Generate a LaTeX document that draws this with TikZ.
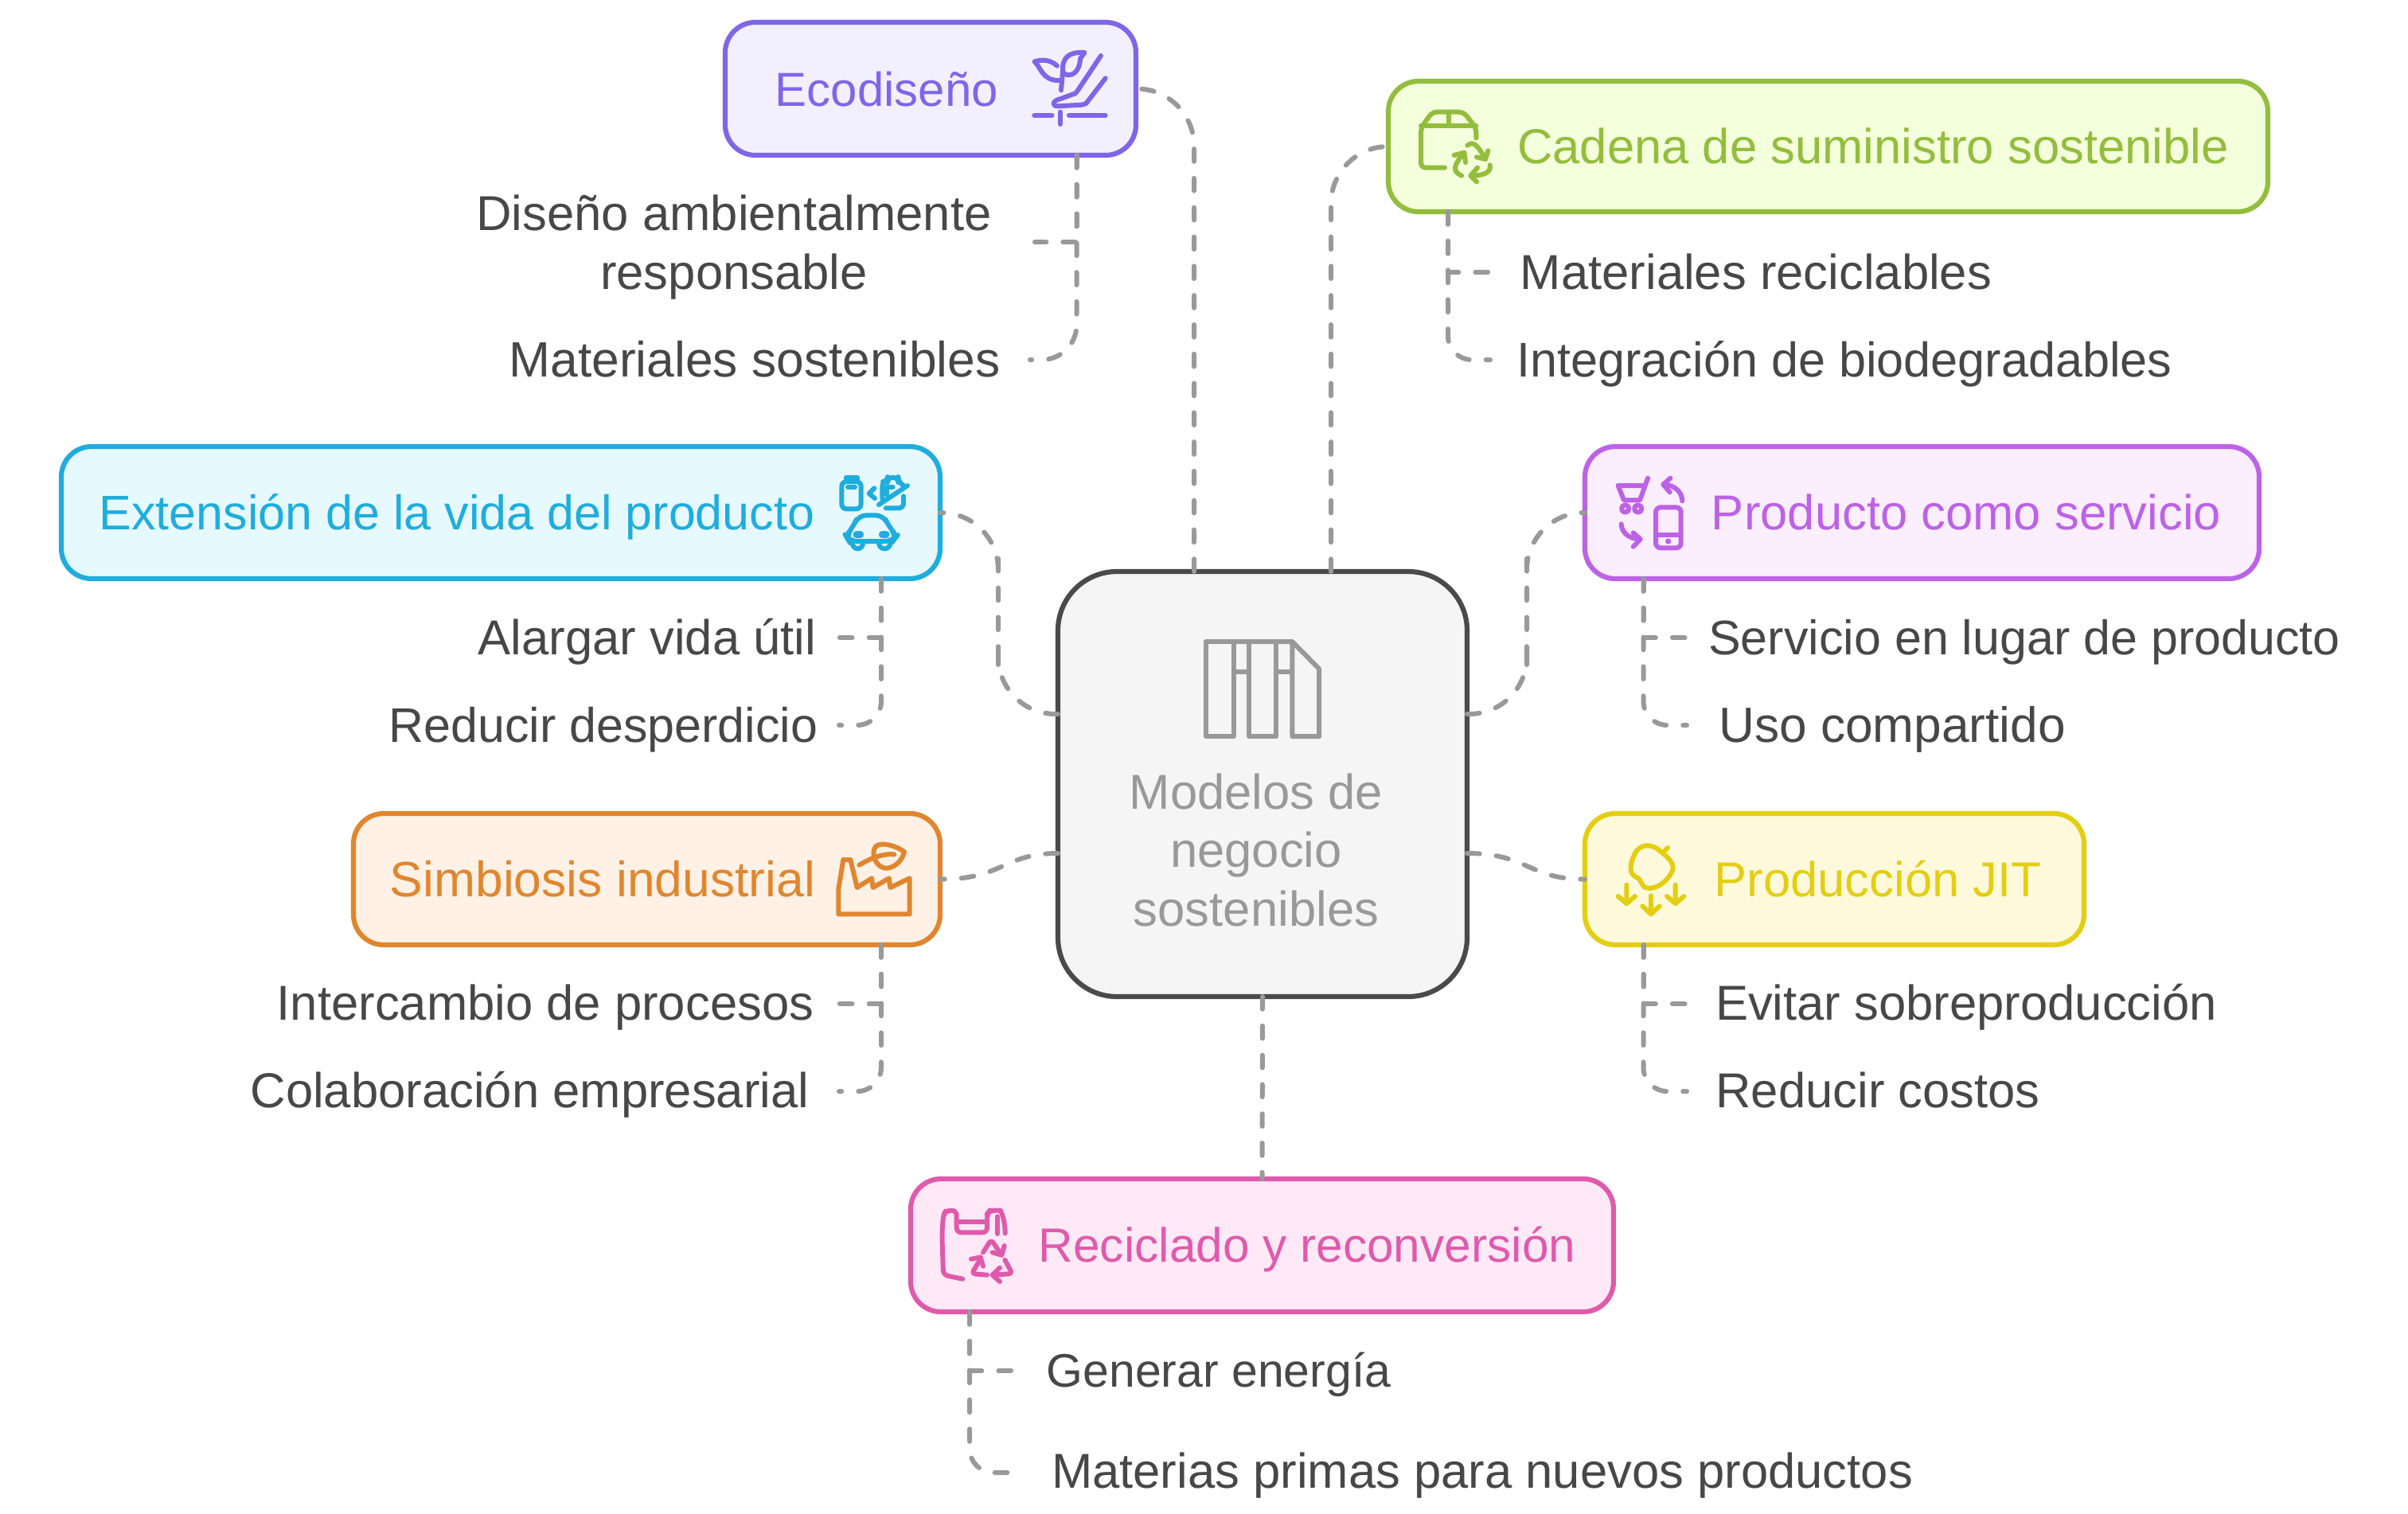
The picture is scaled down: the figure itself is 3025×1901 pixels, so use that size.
\documentclass[tikz,border=0pt]{standalone}
\usepackage{fontspec}
\setmainfont{Liberation Sans}
\definecolor{ecoS}{HTML}{7F66E8}\definecolor{ecoF}{HTML}{F2F0FF}
\definecolor{cadS}{HTML}{93BD3C}\definecolor{cadF}{HTML}{F4FFDC}
\definecolor{extS}{HTML}{1EADDD}\definecolor{extF}{HTML}{E6F9FF}
\definecolor{proS}{HTML}{BD62E6}\definecolor{proF}{HTML}{FBEEFF}
\definecolor{simS}{HTML}{E0862F}\definecolor{simF}{HTML}{FFF1E5}
\definecolor{jitS}{HTML}{E3CE12}\definecolor{jitF}{HTML}{FFF9DB}
\definecolor{recS}{HTML}{E05AAC}\definecolor{recF}{HTML}{FFE9F7}
\definecolor{hubS}{HTML}{4A4A4A}\definecolor{hubF}{HTML}{F5F5F5}
\definecolor{hubT}{HTML}{999999}\definecolor{labT}{HTML}{474747}
\newcommand{\fsz}[1]{\fontsize{#1}{36}\selectfont}
\tikzset{
  boxnode/.style={draw=#1S,fill=#1F,text=#1S,line width=3.1pt,rounded corners=19pt,inner sep=0pt,outer sep=0pt},
  hubnode/.style={draw=hubS,fill=hubF,line width=3.1pt,rounded corners=37pt,inner sep=0pt,outer sep=0pt},
  title/.style={font=\fsz{30.8},text=#1,anchor=base,inner sep=0pt},
  sublabel/.style={font=\fsz{30.8},text=labT,anchor=base,inner sep=0pt},
  dashlink/.style={draw=hubT,line width=3pt,line cap=round,dash pattern=on 7.85pt off 10.55pt},
  mainlink/.style={dashlink,rounded corners=36pt},
  sublink/.style={dashlink,rounded corners=15pt},
  icon/.style={draw=#1,line width=3pt,line cap=round,line join=round},
  zoomA/.style={x=0.1667pt,y=-0.1667pt}
}
\begin{document}
\begin{tikzpicture}[x=0.5pt,y=-0.5pt]
\useasboundingbox[fill=white] (0,0) rectangle (3025,1901);
% boxes
\node[hubnode,minimum width=257pt,minimum height=267pt] (hub) at (1586,985) {};
\node[boxnode=eco,minimum width=258pt,minimum height=83.5pt] (eco) at (1169,111.5) {};
\node[boxnode=cad,minimum width=552.5pt,minimum height=82pt] (cad) at (2296.5,184) {};
\node[boxnode=ext,minimum width=552pt,minimum height=83pt] (ext) at (629,644) {};
\node[boxnode=pro,minimum width=423.5pt,minimum height=83pt] (pro) at (2414.5,644) {};
\node[boxnode=sim,minimum width=368.5pt,minimum height=82.5pt] (sim) at (812.5,1104.5) {};
\node[boxnode=jit,minimum width=313.5pt,minimum height=82.5pt] (jit) at (2304.5,1104.5) {};
\node[boxnode=rec,minimum width=441.5pt,minimum height=83.5pt] (rec) at (1585.5,1564.5) {};
% titles
\node[title=ecoS,font=\fsz{30}] (tEco) at (1114,133) {Ecodiseño};
\node[title=cadS] (tCad) at (2353,205) {Cadena de suministro sostenible};
\node[title=extS,font=\fsz{30.5}] (tExt) at (574,665) {Extensión de la vida del producto};
\node[title=proS] (tPro) at (2470,665) {Producto como servicio};
\node[title=simS,font=\fsz{31.2}] (tSim) at (757,1126) {Simbiosis industrial};
\node[title=jitS] (tJit) at (2359,1126) {Producción JIT};
\node[title=recS,font=\fsz{30.2}] (tRec) at (1642,1585) {Reciclado y reconversión};
\node[title=hubT] (h1) at (1578,1016) {Modelos de};
\node[title=hubT] (h2) at (1578,1089) {negocio};
\node[title=hubT] (h3) at (1578,1163) {sostenibles};
% sub labels
\node[sublabel] (l1a) at (922,289) {Diseño ambientalmente};
\node[sublabel] (l1b) at (922,363) {responsable};
\node[sublabel,font=\fsz{31.2}] (l2) at (948,473) {Materiales sostenibles};
\node[sublabel] (l3) at (2206,363) {Materiales reciclables};
\node[sublabel,font=\fsz{30.6}] (l4) at (2317,473) {Integración de biodegradables};
\node[sublabel] (l5) at (813,822) {Alargar vida útil};
\node[sublabel,font=\fsz{30.5}] (l6) at (758,932) {Reducir desperdicio};
\node[sublabel,font=\fsz{30.5}] (l7) at (2543,822) {Servicio en lugar de producto};
\node[sublabel,font=\fsz{31.1}] (l8) at (2377,932) {Uso compartido};
\node[sublabel] (l9) at (685,1281) {Intercambio de procesos};
\node[sublabel] (l10) at (665.5,1391) {Colaboración empresarial};
\node[sublabel] (l11) at (2470,1281) {Evitar sobreproducción};
\node[sublabel] (l12) at (2359,1391) {Reducir costos};
\node[sublabel,font=\fsz{29.5}] (l13) at (1531,1742) {Generar energía};
\node[sublabel] (l14) at (1862,1869) {Materias primas para nuevos productos};
% free ends and bends
\coordinate (hA) at (1500,718);
\coordinate (hB) at (1672,718);
\coordinate (hL) at (1329,897);
\coordinate (hR) at (1843,897);
\coordinate (hLb) at (1329,1072);
\coordinate (hRb) at (1843,1072);
\coordinate (mL) at (1254,770);
\coordinate (mR) at (1918,770);
\coordinate (e1) at (1300,304);
\coordinate (e2) at (1294,452);
\coordinate (e3) at (1872,342);
\coordinate (e4) at (1872,452);
\coordinate (e5) at (1054,801);
\coordinate (e6) at (1054,911);
\coordinate (e7) at (2119,801);
\coordinate (e8) at (2119,911);
\coordinate (e9) at (1054,1261);
\coordinate (e10) at (1054,1371);
\coordinate (e11) at (2119,1261);
\coordinate (e12) at (2119,1371);
\coordinate (e13) at (1271,1722);
\coordinate (e14) at (1268,1850);
\coordinate (tE) at (1352.5,0);
\coordinate (tC) at (1819,0);
\coordinate (tX) at (1107,0);
\coordinate (tP) at (2064.5,0);
\coordinate (tR) at (1218,0);
% main connectors
\draw[mainlink] (hA) |- (eco.east);
\draw[mainlink] (hB) |- (cad.west);
\draw[mainlink] (hL) -| (mL) |- (ext.east);
\draw[mainlink] (hR) -| (mR) |- (pro.west);
\draw[dashlink] (hLb) .. controls (1260,1072) and (1260,1105) .. (sim.east);
\draw[dashlink] (hRb) .. controls (1920,1072) and (1920,1105) .. (jit.west);
\draw[dashlink] (hub.south) -- (rec.north);
% sub connectors
\draw[dashlink] (eco.south -| tE) |- (e1);
\draw[sublink,rounded corners=22pt] (eco.south -| tE) |- (e2);
\draw[dashlink] (cad.south -| tC) |- (e3);
\draw[sublink] (cad.south -| tC) |- (e4);
\draw[dashlink] (ext.south -| tX) |- (e5);
\draw[sublink] (ext.south -| tX) |- (e6);
\draw[dashlink] (pro.south -| tP) |- (e7);
\draw[sublink] (pro.south -| tP) |- (e8);
\draw[dashlink] (sim.south -| tX) |- (e9);
\draw[sublink] (sim.south -| tX) |- (e10);
\draw[dashlink] (jit.south -| tP) |- (e11);
\draw[sublink] (jit.south -| tP) |- (e12);
\draw[dashlink] (rec.south -| tR) |- (e13);
\draw[sublink] (rec.south -| tR) |- (e14);
% icon: hub
\begin{scope}[shift={(1320,700)},x=0.1724pt,y=-0.1786pt,icon=hubT]
\draw (565,297) rectangle (667,630);
\draw (667,297) -- (880,297) -- (978,393) -- (978,630) -- (880,630) -- (880,297);
\draw (722,297) -- (722,630) -- (822,630) -- (822,297);
\draw (667,403) -- (722,403) (822,403) -- (880,403);
\end{scope}
% icon: eco
\begin{scope}[shift={(900,20)},x=0.1786pt,y=-0.1667pt,icon=ecoS]
\draw (1198,188) .. controls (1175,165) and (1145,163) .. (1118,172) .. controls (1140,190) and (1145,245) .. (1205,243);
\draw (1295,138) .. controls (1240,135) and (1215,155) .. (1218,210) .. controls (1225,230) and (1275,235) .. (1280,160) -- cycle;
\draw (1218,210) -- (1212,280);
\draw (1352,150) -- (1270,282) -- (1262,292) -- (1195,318) .. controls (1180,325) and (1185,342) .. (1200,340) -- (1285,335) -- (1300,330) -- (1368,235);
\draw (1118,375) -- (1180,375) (1210,362) -- (1210,408) (1240,375) -- (1368,375);
\end{scope}
% icon: cadena
\begin{scope}[shift={(1760,90)},zoomA,icon=cadS]
\draw[rounded corners=3pt] (165,362) -- (75,362) -- (75,212) -- (118,152) -- (235,152) -- (283,212) -- (283,250);
\draw (75,205) -- (283,205) (180,152) -- (180,205);
\draw (250,278) .. controls (270,262) and (285,270) .. (318,330);
\draw (328,298) -- (318,330) -- (285,322);
\draw (335,352) .. controls (340,375) and (320,392) .. (265,392);
\draw (288,362) -- (262,392) -- (285,415);
\draw (228,392) .. controls (190,375) and (200,350) .. (238,305);
\draw (200,315) -- (238,305) -- (243,342);
\end{scope}
% icon: extension
\begin{scope}[shift={(1000,560)},zoomA,icon=extS]
\draw[rounded corners=3pt] (172,238) -- (172,135) -- (245,135) -- (245,238) -- cycle;
\draw (190,135) -- (190,120) -- (232,120) -- (232,135) (195,155) -- (222,155);
\draw[rounded corners=3pt] (338,235) -- (405,235) -- (405,190);
\draw[rounded corners=3pt] (325,200) -- (325,135) -- (345,135) -- (345,120) -- (385,120) -- (385,135) -- (405,150);
\draw (342,185) -- (342,155) -- (365,155);
\draw (312,222) -- (420,150);
\draw (295,160) -- (275,180) -- (297,198);
\draw[rounded corners=5pt] (215,305) -- (235,262) -- (330,262) -- (350,305) -- (380,340) -- (365,360) -- (200,360) -- (188,340) -- cycle;
\draw[line width=4.5pt] (228,335) -- (242,335) (325,335) -- (339,335);
\draw[rounded corners=3pt] (212,365) -- (215,388) -- (250,388) -- (252,365);
\draw[rounded corners=3pt] (312,365) -- (315,388) -- (352,388) -- (355,365);
\end{scope}
% icon: producto
\begin{scope}[shift={(1960,560)},zoomA,icon=proS]
\draw (218,150) -- (310,150) (218,150) -- (240,205) -- (300,205) -- (330,122);
\draw (245,237) circle[radius=14];
\draw (293,237) circle[radius=14];
\draw (460,208) .. controls (458,175) and (435,150) .. (390,145);
\draw (415,122) -- (388,146) -- (413,175);
\draw (230,295) .. controls (232,330) and (260,350) .. (300,352);
\draw (275,328) -- (302,352) -- (275,380);
\draw[rounded corners=3pt] (360,232) rectangle (455,385);
\draw (360,335) -- (455,335);
\fill[proS] (407,360) circle[radius=11];
\end{scope}
% icon: simbiosis
\begin{scope}[shift={(1000,1020)},zoomA,icon=simS]
\draw (160,385) -- (160,290) -- (178,180) -- (205,180) -- (230,285) -- (285,250) -- (290,285) -- (350,250) -- (355,285) -- (428,250) -- (428,385) -- cycle;
\draw (408,150) .. controls (380,130) and (325,110) .. (300,130) .. controls (280,155) and (300,215) .. (345,212) .. controls (380,205) and (400,180) .. (408,150);
\draw (238,200) .. controls (280,175) and (330,155) .. (370,160);
\end{scope}
% icon: jit
\begin{scope}[shift={(1980,1020)},zoomA,icon=jitS]
\draw (320,150) .. controls (290,120) and (240,115) .. (220,160) .. controls (205,190) and (195,230) .. (225,245) .. controls (245,250) and (240,270) .. (260,285) .. controls (300,300) and (360,250) .. (365,210) .. controls (365,190) and (345,170) .. (320,150);
\draw (325,155) -- (345,135);
\draw (190,275) -- (190,345) (158,318) -- (190,345) -- (222,318);
\draw (282,315) -- (282,385) (250,355) -- (282,385) -- (314,355);
\draw (374,275) -- (374,345) (342,318) -- (374,345) -- (406,318);
\end{scope}
% icon: reciclado
\begin{scope}[shift={(1130,1470)},zoomA,icon=recS]
\draw[rounded corners=3pt] (238,410) -- (165,395) -- (160,240) -- (165,170) -- (175,152) -- (215,152) -- (215,235) -- (330,235) -- (330,165) -- (340,152) -- (380,152);
\draw (380,152) .. controls (395,180) and (398,220) .. (398,238);
\draw (215,195) -- (325,195) (368,175) -- (368,240);
\draw[rounded corners=2pt] (315,310) -- (345,262) -- (385,320);
\draw (395,285) -- (385,320) -- (350,310);
\draw[rounded corners=2pt] (397,338) -- (425,390) -- (350,395);
\draw (378,368) -- (350,395) -- (378,420);
\draw[rounded corners=2pt] (330,395) -- (272,390) -- (305,335);
\draw (270,335) -- (305,328) -- (315,362);
\end{scope}
\end{tikzpicture}
\end{document}
